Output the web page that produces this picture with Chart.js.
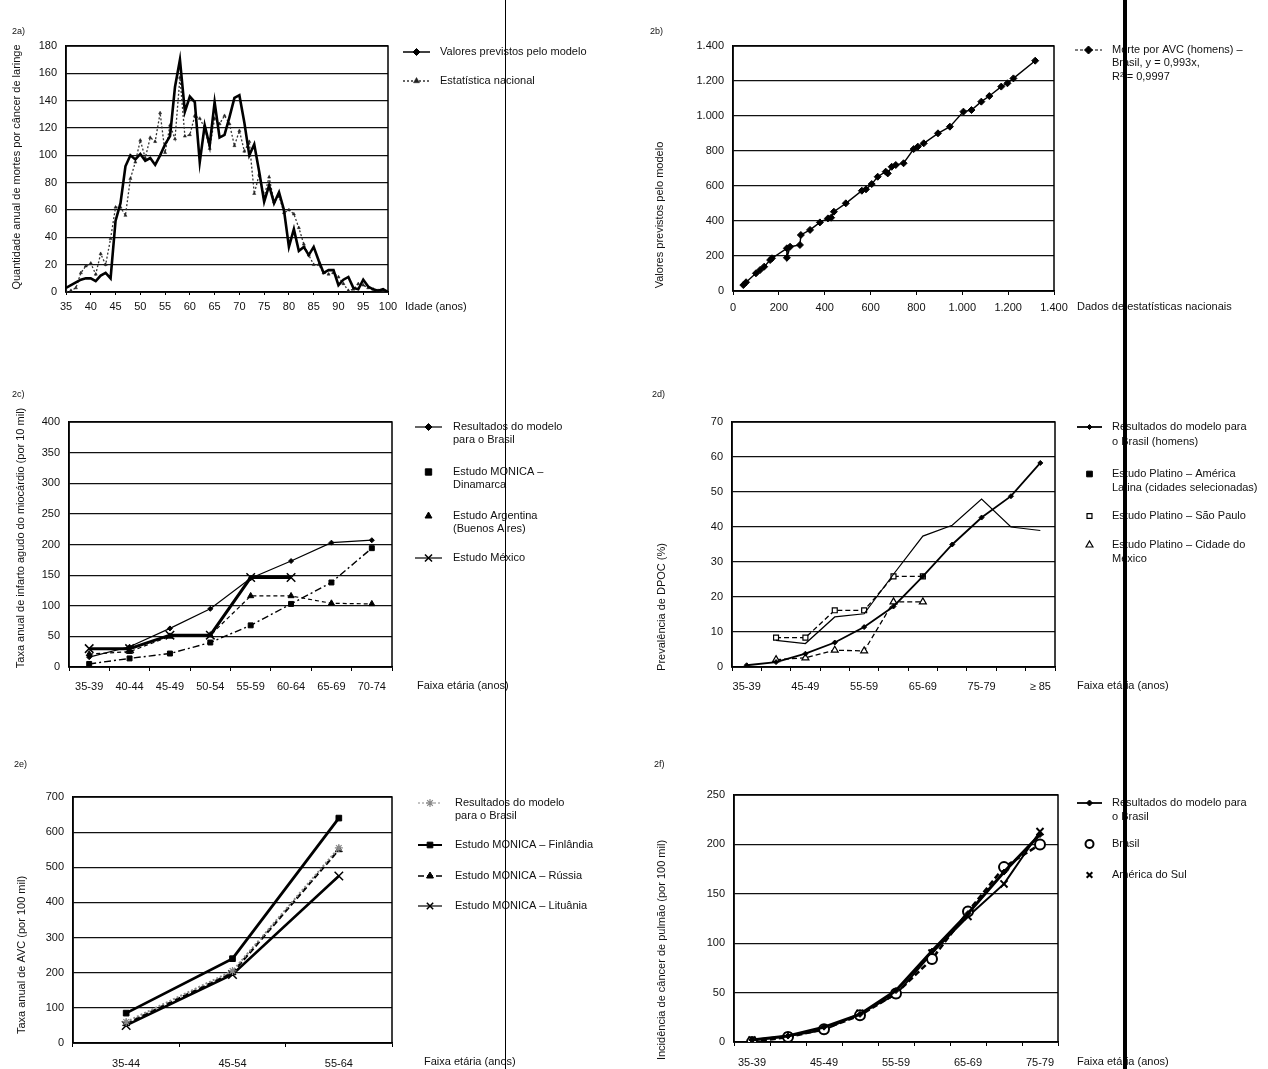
<!DOCTYPE html>
<html>
<head>
<meta charset="utf-8">
<script src="https://cdn.jsdelivr.net/npm/chart.js@4.4.1/dist/chart.umd.min.js"></script>
<style>
    html, body { margin: 0; padding: 0; background: #fff; }
    #pagina { position: relative; width: 1268px; height: 1069px; overflow: hidden; }
    #pagina canvas { position: absolute; left: 0; top: 0; }
    .risco { position: absolute; top: 0; height: 1069px; background: #000; }
</style>
</head>
<body>
<div id="pagina">
    <canvas id="g2a" width="1268" height="1069"></canvas>
    <canvas id="g2b" width="1268" height="1069"></canvas>
    <canvas id="g2c" width="1268" height="1069"></canvas>
    <canvas id="g2d" width="1268" height="1069"></canvas>
    <canvas id="g2e" width="1268" height="1069"></canvas>
    <canvas id="g2f" width="1268" height="1069"></canvas>
    <div class="risco" style="left:505px;width:1px"></div>
    <div class="risco" style="left:1123px;width:4px"></div>
</div>
<script>
// 2a) mortes por câncer de laringe, por idade
const idades2a = [35, 36, 37, 38, 39, 40, 41, 42, 43, 44, 45, 46, 47, 48, 49, 50, 51, 52, 53, 54,
    55, 56, 57, 58, 59, 60, 61, 62, 63, 64, 65, 66, 67, 68, 69, 70, 71, 72, 73, 74,
    75, 76, 77, 78, 79, 80, 81, 82, 83, 84, 85, 86, 87, 88, 89, 90, 91, 92, 93, 94,
    95, 96, 97, 98, 99, 100];
const modelo2a = [3, 5, 7, 9, 10, 10, 8, 12, 14, 10, 52, 65, 92, 100, 97, 101, 96, 98, 93, 100,
    108, 114, 150, 170, 132, 143, 139, 95, 122, 107, 139, 113, 115, 128, 142, 144, 124, 100, 108, 88,
    66, 78, 65, 73, 60, 33, 46, 30, 33, 27, 33, 23, 14, 16, 16, 5, 9, 11, 3, 2,
    9, 4, 2, 1, 2, 0];
const estatistica2a = [0, 1, 3, 14, 19, 21, 13, 28, 20, 39, 62, 62, 56, 83, 95, 111, 98, 113, 110, 131,
    102, 122, 112, 157, 114, 115, 129, 127, 120, 105, 127, 123, 129, 123, 107, 118, 103, 110, 72, 86,
    70, 84, 66, 70, 58, 60, 57, 47, 35, 27, 20, 20, 14, 13, 14, 11, 6, 1, 2, 6,
    5, 3, 2, 1, 1, 0];

// 2b) AVC em homens: estatística nacional x modelo
const estatNac2b = [45, 57, 100, 118, 136, 162, 170, 235, 235, 249, 292, 296, 336, 379, 414, 428, 440, 492,
    562, 580, 605, 631, 666, 675, 692, 710, 744, 788, 806, 832, 894, 946, 1005, 1040, 1083, 1118,
    1170, 1197, 1223, 1318];
const modelo2b = [34, 50, 101, 120, 139, 177, 187, 244, 190, 253, 263, 320, 349, 392, 415, 419, 453, 501,
    573, 581, 611, 653, 682, 672, 710, 720, 730, 811, 825, 844, 901, 939, 1025, 1034, 1082, 1114,
    1168, 1187, 1215, 1316];

// 2c) infarto agudo do miocárdio
const faixas2c = ['35-39', '40-44', '45-49', '50-54', '55-59', '60-64', '65-69', '70-74'];
const brasil2c = [16, 33, 63, 95, 145, 173, 203, 207];
const dinamarca2c = [5, 14, 22, 40, 68, 103, 138, 194];
const argentina2c = [21, 25, 50, 52, 116, 116, 104, 103];
const mexico2c = [30, 30, 52, 52, 146, 146, null, null];

// 2d) prevalência de DPOC
const faixas2d = ['35-39', '40-44', '45-49', '50-54', '55-59', '60-64', '65-69', '70-74', '75-79', '80-84', '≥ 85'];
const brasil2d = [0.5, 1.4, 3.8, 7, 11.4, 17.3, 25.9, 35, 42.7, 48.8, 58.3];
const platinoAL2d = [null, 7.6, 6.7, 14.3, 15.2, 26.5, 37.4, 40.5, 48, 40, 39];
const saoPaulo2d = [null, 8.4, 8.4, 16.2, 16.2, 25.9, 25.9, null, null, null, null];
const cidadeMexico2d = [null, 2.1, 2.6, 4.8, 4.6, 18.6, 18.6, null, null, null, null];

// 2e) AVC (por 100 mil)
const faixas2e = ['35-44', '45-54', '55-64'];
const brasil2e = [60, 205, 555];
const finlandia2e = [85, 240, 640];
const russia2e = [55, 200, 550];
const lituania2e = [50, 195, 475];

// 2f) câncer de pulmão (por 100 mil)
const faixas2f = ['35-39', '40-44', '45-49', '50-54', '55-59', '60-64', '65-69', '70-74', '75-79'];
const modelo2f = [2, 6, 15, 28, 52, 92, 130, 172, 210];
const brasil2f = [0, 5, 13, 27, 49, 84, 132, 177, 200];
const americaSul2f = [2, 6, 12, 29, 48, 90, 127, 160, 213];

const FONTE = "'Liberation Sans', Arial, sans-serif";
Chart.defaults.font.family = FONTE;
Chart.defaults.font.size = 11;
Chart.defaults.color = '#111';

const milhar = (v) => String(v).replace(/\B(?=(\d{3})+(?!\d))/g, '.');

// moldura, títulos dos eixos e legenda desenhados a mão
const painelPlugin = {
    id: 'painel',
    beforeDatasetsDraw(chart) {
        const { ctx, chartArea: a } = chart;
        ctx.save();
        ctx.strokeStyle = '#000';
        ctx.lineWidth = 1.5;
        ctx.strokeRect(a.left, a.top, a.right - a.left, a.bottom - a.top);
        ctx.restore();
    },
    afterDraw(chart, args, o) {
        const ctx = chart.ctx;
        ctx.save();
        ctx.fillStyle = '#111';
        ctx.textBaseline = 'middle';
        ctx.font = '9px ' + FONTE;
        ctx.fillText(o.rotulo[0], o.rotulo[1], o.rotulo[2]);
        ctx.font = '11px ' + FONTE;
        ctx.fillText(o.tituloX[0], o.tituloX[1], o.tituloX[2]);
        ctx.save();
        ctx.translate(o.tituloY[1], o.tituloY[2]);
        ctx.rotate(-Math.PI / 2);
        ctx.textAlign = 'center';
        ctx.fillText(o.tituloY[0], 0, 0);
        ctx.restore();

        const [x1, x2, xt] = o.legX;
        o.legenda.forEach((item) => {
            const ds = chart.data.datasets[item.ds];
            const y0 = item.y[0];
            if (item.linha) {
                ctx.save();
                ctx.strokeStyle = ds.borderColor;
                ctx.lineWidth = item.lw || ds.borderWidth;
                ctx.setLineDash(item.dash || ds.borderDash || []);
                ctx.beginPath();
                ctx.moveTo(x1, y0);
                ctx.lineTo(x2, y0);
                ctx.stroke();
                ctx.restore();
            }
            ctx.save();
            ctx.fillStyle = ds.pointBackgroundColor || '#000';
            ctx.strokeStyle = ds.pointBorderColor || '#000';
            ctx.lineWidth = ds.pointBorderWidth || 1;
            Chart.helpers.drawPoint(ctx, {
                pointStyle: item.estilo || ds.pointStyle,
                radius: item.raio || ds.pointRadius,
                rotation: 0,
                borderWidth: ds.pointBorderWidth || 1
            }, (x1 + x2) / 2, y0);
            ctx.restore();
            ctx.fillStyle = '#111';
            item.textos.forEach((t, k) => ctx.fillText(t, xt, item.y[k]));
        });
        ctx.restore();
    }
};

function eixoY(min, max, passo, fmt) {
    return {
        min, max,
        ticks: { stepSize: passo, padding: 9, callback: fmt || ((v) => v) },
        grid: { color: '#111', lineWidth: 1.2, drawTicks: false },
        border: { color: '#000', width: 1.5 },
        afterFit: (s) => { s.width = 50; }
    };
}

function eixoCat(rotulos, pad, alternado) {
    return {
        type: 'category',
        offset: true,
        grid: { offset: true, drawOnChartArea: false, tickLength: 4, color: '#000' },
        border: { color: '#000', width: 1.5 },
        ticks: {
            padding: pad, autoSkip: false, maxRotation: 0,
            callback: (v, i) => (alternado && i % 2 ? '' : rotulos[i])
        },
        afterFit: (s) => { s.height = 30; }
    };
}

function serie(label, data, estilo) {
    return Object.assign({
        label, data,
        borderColor: '#000', borderWidth: 1.2,
        pointBackgroundColor: '#000', pointBorderColor: '#000', pointBorderWidth: 1,
        pointRadius: 3, tension: 0, fill: false
    }, estilo);
}

function grafico(id, tipo, dados, escalas, area, painel) {
    const [L, T, R, B] = area;
    return new Chart(document.getElementById(id), {
        type: tipo,
        data: dados,
        options: {
            responsive: false,
            animation: false,
            events: [],
            layout: { padding: { left: L - 50, top: T, right: 1268 - R, bottom: 1069 - B - 30 } },
            scales: escalas,
            plugins: { legend: { display: false }, tooltip: { enabled: false }, painel }
        },
        plugins: [painelPlugin]
    });
}

// 2a
grafico('g2a', 'line', {
    datasets: [
        serie('Valores previstos pelo modelo', idades2a.map((x, i) => ({ x, y: modelo2a[i] })),
            { borderWidth: 2.6, pointRadius: 0, pointStyle: 'rectRot' }),
        serie('Estatística nacional', idades2a.map((x, i) => ({ x, y: estatistica2a[i] })),
            { borderColor: '#333', borderWidth: 1.3, borderDash: [2, 2], pointStyle: 'triangle', pointRadius: 1.8,
              pointBackgroundColor: '#222', pointBorderColor: '#222', pointBorderWidth: 0.5 })
    ]
}, {
    x: {
        type: 'linear', min: 35, max: 100,
        ticks: { stepSize: 5, padding: 5 },
        grid: { drawOnChartArea: false, tickLength: 3, color: '#000' },
        border: { color: '#000', width: 1.5 },
        afterFit: (s) => { s.height = 30; }
    },
    y: eixoY(0, 180, 20)
}, [66, 46, 388, 292], {
    rotulo: ['2a)', 12, 32],
    tituloX: ['Idade (anos)', 405, 307],
    tituloY: ['Quantidade anual de mortes por câncer de laringe', 17, 167],
    legX: [403, 430, 440],
    legenda: [
        { ds: 0, linha: true, lw: 1.5, raio: 3.5, y: [52], textos: ['Valores previstos pelo modelo'] },
        { ds: 1, linha: true, raio: 3.5, y: [81], textos: ['Estatística nacional'] }
    ]
});

// 2b
grafico('g2b', 'scatter', {
    datasets: [
        serie('Morte por AVC (homens) – Brasil', estatNac2b.map((x, i) => ({ x, y: modelo2b[i] })),
            { showLine: true, borderWidth: 1.4, pointStyle: 'rectRot', pointRadius: 3.5 })
    ]
}, {
    x: {
        type: 'linear', min: 0, max: 1400,
        ticks: { stepSize: 200, padding: 6, callback: milhar },
        grid: { drawOnChartArea: false, tickLength: 4, color: '#000' },
        border: { color: '#000', width: 1.5 },
        afterFit: (s) => { s.height = 30; }
    },
    y: eixoY(0, 1400, 200, milhar)
}, [733, 46, 1054, 291], {
    rotulo: ['2b)', 650, 32],
    tituloX: ['Dados de estatísticas nacionais', 1077, 307],
    tituloY: ['Valores previstos pelo modelo', 660, 215],
    legX: [1075, 1102, 1112],
    legenda: [
        { ds: 0, linha: true, dash: [3, 2], lw: 1, raio: 4, y: [50, 63, 77],
          textos: ['Morte por AVC (homens) –', 'Brasil, y = 0,993x,', 'R² = 0,9997'] }
    ]
});

// 2c
grafico('g2c', 'line', {
    labels: faixas2c,
    datasets: [
        serie('Resultados do modelo para o Brasil', brasil2c, { pointStyle: 'rectRot', pointRadius: 2.5 }),
        serie('Estudo MONICA – Dinamarca', dinamarca2c, { borderWidth: 1.4, borderDash: [7, 3, 2, 3], pointStyle: 'rect', pointRadius: 3.5 }),
        serie('Estudo Argentina (Buenos Aires)', argentina2c, { borderDash: [4, 3], pointStyle: 'triangle', pointRadius: 3.5 }),
        serie('Estudo México', mexico2c, { borderWidth: 3, pointStyle: 'crossRot', pointRadius: 6, pointBorderWidth: 1.5 })
    ]
}, {
    x: eixoCat(faixas2c, 9, false),
    y: eixoY(0, 400, 50)
}, [69, 422, 392, 667], {
    rotulo: ['2c)', 12, 395],
    tituloX: ['Faixa etária (anos)', 417, 686],
    tituloY: ['Taxa anual de infarto agudo do miocárdio (por 10 mil)', 21, 538],
    legX: [415, 442, 453],
    legenda: [
        { ds: 0, linha: true, raio: 3.5, y: [427, 440], textos: ['Resultados do modelo', 'para o Brasil'] },
        { ds: 1, raio: 4.5, y: [472, 485], textos: ['Estudo MONICA –', 'Dinamarca'] },
        { ds: 2, raio: 4, y: [516, 529], textos: ['Estudo Argentina', '(Buenos Aires)'] },
        { ds: 3, linha: true, lw: 1.2, raio: 5, y: [558], textos: ['Estudo México'] }
    ]
});

// 2d
grafico('g2d', 'line', {
    labels: faixas2d,
    datasets: [
        serie('Resultados do modelo para o Brasil (homens)', brasil2d, { borderWidth: 1.8, pointStyle: 'rectRot', pointRadius: 2.5 }),
        serie('Estudo Platino – América Latina', platinoAL2d, { borderWidth: 1.2, pointRadius: 0, pointStyle: 'rect' }),
        serie('Estudo Platino – São Paulo', saoPaulo2d, { borderWidth: 1.3, borderDash: [5, 3], pointStyle: 'rect', pointRadius: 3.5,
            pointBackgroundColor: '#fff', pointBorderWidth: 1.2 }),
        serie('Estudo Platino – Cidade do México', cidadeMexico2d, { borderWidth: 1.3, borderDash: [5, 3], pointStyle: 'triangle', pointRadius: 4,
            pointBackgroundColor: '#fff', pointBorderWidth: 1.2 })
    ]
}, {
    x: eixoCat(faixas2d, 9, true),
    y: eixoY(0, 70, 10)
}, [732, 422, 1055, 667], {
    rotulo: ['2d)', 652, 395],
    tituloX: ['Faixa etária (anos)', 1077, 686],
    tituloY: ['Prevalência de DPOC (%)', 662, 607],
    legX: [1077, 1102, 1112],
    legenda: [
        { ds: 0, linha: true, y: [427, 442], textos: ['Resultados do modelo para', 'o Brasil (homens)'] },
        { ds: 1, raio: 4, y: [474, 488], textos: ['Estudo Platino – América', 'Latina (cidades selecionadas)'] },
        { ds: 2, y: [516], textos: ['Estudo Platino – São Paulo'] },
        { ds: 3, y: [545, 559], textos: ['Estudo Platino – Cidade do', 'México'] }
    ]
});

// 2e
grafico('g2e', 'line', {
    labels: faixas2e,
    datasets: [
        serie('Resultados do modelo para o Brasil', brasil2e, { borderColor: '#888', borderWidth: 2, borderDash: [2, 2], pointStyle: 'star',
            pointRadius: 4, pointBorderColor: '#888', pointBackgroundColor: '#888', pointBorderWidth: 1.2 }),
        serie('Estudo MONICA – Finlândia', finlandia2e, { borderWidth: 2.8, pointStyle: 'rect', pointRadius: 4 }),
        serie('Estudo MONICA – Rússia', russia2e, { borderWidth: 2.2, borderDash: [6, 3], pointStyle: 'triangle', pointRadius: 4 }),
        serie('Estudo MONICA – Lituânia', lituania2e, { borderWidth: 2.6, pointStyle: 'crossRot', pointRadius: 6, pointBorderWidth: 1.5 })
    ]
}, {
    x: eixoCat(faixas2e, 10, false),
    y: eixoY(0, 700, 100)
}, [73, 797, 392, 1043], {
    rotulo: ['2e)', 14, 765],
    tituloX: ['Faixa etária (anos)', 424, 1062],
    tituloY: ['Taxa anual de AVC (por 100 mil)', 22, 955],
    legX: [418, 442, 455],
    legenda: [
        { ds: 0, linha: true, lw: 1, y: [803, 816], textos: ['Resultados do modelo', 'para o Brasil'] },
        { ds: 1, linha: true, lw: 2, y: [845], textos: ['Estudo MONICA – Finlândia'] },
        { ds: 2, linha: true, lw: 1.5, y: [876], textos: ['Estudo MONICA – Rússia'] },
        { ds: 3, linha: true, lw: 1.2, raio: 4.5, y: [906], textos: ['Estudo MONICA – Lituânia'] }
    ]
});

// 2f
grafico('g2f', 'line', {
    labels: faixas2f,
    datasets: [
        serie('Resultados do modelo para o Brasil', modelo2f, { borderWidth: 3, pointStyle: 'rectRot', pointRadius: 3 }),
        serie('Brasil', brasil2f, { borderWidth: 2.5, borderDash: [6, 3], pointStyle: 'circle', pointRadius: 5,
            pointBackgroundColor: '#fff', pointBorderWidth: 2 }),
        serie('América do Sul', americaSul2f, { borderWidth: 2, pointStyle: 'crossRot', pointRadius: 5, pointBorderWidth: 2 })
    ]
}, {
    x: eixoCat(faixas2f, 10, true),
    y: eixoY(0, 250, 50)
}, [734, 795, 1058, 1042], {
    rotulo: ['2f)', 654, 765],
    tituloX: ['Faixa etária (anos)', 1077, 1062],
    tituloY: ['Incidência de câncer de pulmão (por 100 mil)', 662, 950],
    legX: [1077, 1102, 1112],
    legenda: [
        { ds: 0, linha: true, lw: 1.8, y: [803, 817], textos: ['Resultados do modelo para', 'o Brasil'] },
        { ds: 1, raio: 4, y: [844], textos: ['Brasil'] },
        { ds: 2, raio: 4, y: [875], textos: ['América do Sul'] }
    ]
});
</script>
</body>
</html>
